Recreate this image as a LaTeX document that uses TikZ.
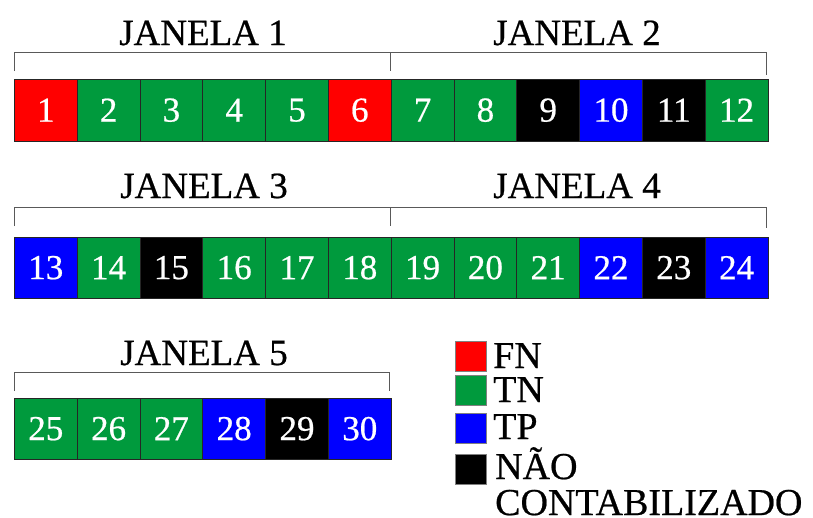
\documentclass[tikz,border=0pt]{standalone}
\usepackage{fontspec}
\setmainfont[FakeBold=0.6]{Liberation Serif}
\newfontfamily\heavy[FakeBold=0.6]{Liberation Serif}
\definecolor{cfn}{RGB}{255,0,0}
\definecolor{ctn}{RGB}{0,154,61}
\definecolor{ctp}{RGB}{0,0,255}
\definecolor{cnc}{RGB}{0,0,0}
\begin{document}
\begin{tikzpicture}[x=1pt,y=-1pt,
  cell/.style={draw=black!85, line width=0.8pt, minimum width=62.8pt, minimum height=61.5pt,
    inner sep=0pt, text=white, font=\fontsize{35}{40}\selectfont\heavy, anchor=north west},
  title/.style={anchor=base, inner sep=0pt, font=\fontsize{37}{44}\selectfont\heavy},
  bracket/.style={draw=black!65, line width=0.9pt},
  legsq/.style={draw=black!50, line width=0.5pt, minimum width=30.5pt, minimum height=30pt, inner sep=0pt, anchor=north west},
  legtxt/.style={anchor=base west, inner sep=0pt, font=\fontsize{38}{44}\selectfont\heavy}]
\useasboundingbox (0,0) rectangle (813,517);
% row 1
\foreach \n/\c [count=\k from 0] in {1/cfn,2/ctn,3/ctn,4/ctn,5/ctn,6/cfn,7/ctn,8/ctn,9/cnc,10/ctp,11/cnc,12/ctn}
  \node[cell, fill=\c] (c\n) at ({14+\k*62.8},79) {\n};
% row 2
\foreach \n/\c [count=\k from 0] in {13/ctp,14/ctn,15/cnc,16/ctn,17/ctn,18/ctn,19/ctn,20/ctn,21/ctn,22/ctp,23/cnc,24/ctp}
  \node[cell, fill=\c] (c\n) at ({14+\k*62.8},236.5) {\n};
% row 3
\foreach \n/\c [count=\k from 0] in {25/ctn,26/ctn,27/ctn,28/ctp,29/cnc,30/ctp}
  \node[cell, fill=\c] (c\n) at ({14+\k*62.8},397.5) {\n};
% brackets
\draw[bracket] (14,71) -- (14,52) -- (390,52) -- (390,71);
\draw[bracket] (390,52) -- (766,52) -- (766,75);
\draw[bracket] (14,226) -- (14,207) -- (390,207) -- (390,226);
\draw[bracket] (390,207) -- (766,207) -- (766,228);
\draw[bracket] (14,391) -- (14,372) -- (389,372) -- (389,391);
% titles
\node[title] (t1) at (203,45) {JANELA 1};
\node[title] (t2) at (577,45) {JANELA 2};
\node[title] (t3) at (204,198) {JANELA 3};
\node[title] (t4) at (577,198) {JANELA 4};
\node[title] (t5) at (204,365) {JANELA 5};
% legend
\node[legsq, fill=cfn] (l1) at (455,341) {};
\node[legsq, fill=ctn] (l2) at (455,375) {};
\node[legsq, fill=ctp] (l3) at (455,413) {};
\node[legsq, fill=cnc] (l4) at (455,453.5) {};
\node[legtxt] (x1) at (493,368) {FN};
\node[legtxt] (x2) at (493,402) {TN};
\node[legtxt] (x3) at (493,439) {TP};
\node[legtxt] (x4) at (495,479) {NÃO};
\node[legtxt] (x5) at (495,515) {CONTABILIZADO};
\end{tikzpicture}
\end{document}
